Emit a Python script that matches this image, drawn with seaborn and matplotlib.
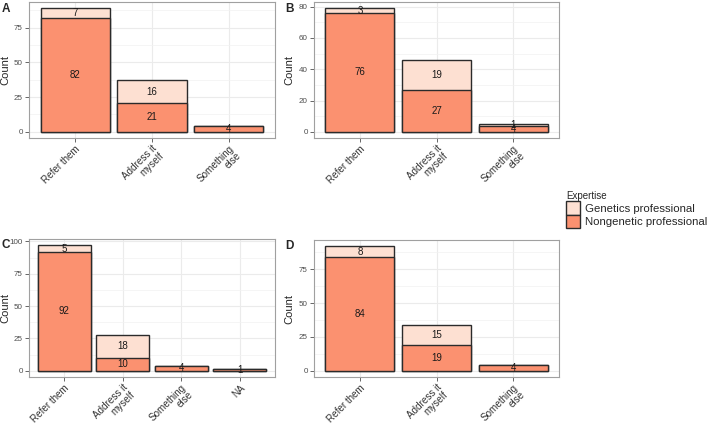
import matplotlib
matplotlib.use("Agg")
import pandas as pd
import matplotlib.pyplot as plt
import seaborn as sns
from matplotlib.patches import Patch

# Response categories
responses = ["Refer them", "Address it\nmyself", "Something\nelse"]
responses_c = ["Refer them", "Address it\nmyself", "Something\nelse", "NA"]

# Counts per panel
nongenetic_a = [82, 21, 4]
genetics_a = [7, 16, 0]
nongenetic_b = [76, 27, 4]
genetics_b = [3, 19, 1]
nongenetic_c = [92, 10, 4, 1]
genetics_c = [5, 18, 0, 0]
nongenetic_d = [84, 19, 4]
genetics_d = [8, 15, 0]

yticks_a = [0, 25, 50, 75]
yticks_b = [0, 20, 40, 60, 80]
yticks_c = [0, 25, 50, 75, 100]
yticks_d = [0, 25, 50, 75]

GEN_COLOR = "#fde0d2"
NONGEN_COLOR = "#fb9170"
EDGE = "#2b2b2b"
FONT = "Liberation Sans"

W, H = 709, 428


def setup_style():
    sns.set_style("white")
    plt.rcParams["font.family"] = [FONT, "DejaVu Sans"]


def px_axes(fig, x0, y0, x1, y1):
    return fig.add_axes([x0 / W, 1 - y1 / H, (x1 - x0) / W, (y1 - y0) / H])


def draw_panel(ax, cats, nongen, gen, yticks, minor_step, label_x):
    df = pd.DataFrame({"response": cats, "nongenetic": nongen, "genetics": gen})
    df["total"] = df["nongenetic"] + df["genetics"]

    # total bar first (genetics on top), then nongenetic part over it
    sns.barplot(data=df, x="response", y="total", order=cats, color=GEN_COLOR,
                saturation=1, width=0.9, edgecolor=EDGE, linewidth=1.0,
                errorbar=None, ax=ax, zorder=3)
    sns.barplot(data=df, x="response", y="nongenetic", order=cats, color=NONGEN_COLOR,
                saturation=1, width=0.9, edgecolor=EDGE, linewidth=1.0,
                errorbar=None, ax=ax, zorder=3)

    for i, row in df.iterrows():
        if row["nongenetic"] > 0:
            ax.text(i, row["nongenetic"] / 2, str(row["nongenetic"]), ha="center",
                    va="center", fontsize=7, color="#1a1a1a", zorder=5)
        if row["genetics"] > 0:
            ax.text(i, row["nongenetic"] + row["genetics"] / 2, str(row["genetics"]),
                    ha="center", va="center", fontsize=7, color="#1a1a1a", zorder=5)

    top = df["total"].max()
    ax.set_ylim(-0.05 * top, top * 1.05)
    ax.set_xlim(-0.6, len(cats) - 0.4)
    ax.set_yticks(yticks)
    ax.set_yticks([t + minor_step for t in yticks if t + minor_step < top * 1.05], minor=True)

    ax.set_axisbelow(True)
    ax.grid(True, which="major", color="#ebebeb", linewidth=0.8, zorder=0)
    ax.grid(True, which="minor", axis="y", color="#f2f2f2", linewidth=0.5, zorder=0)

    ax.set_xlabel("")
    ax.set_ylabel("Count", fontsize=8)
    ax.yaxis.set_label_coords(label_x, 0.5)
    ax.set_xticks(range(len(cats)))
    ax.set_xticklabels(cats, rotation=45, ha="right", va="top", rotation_mode="anchor",
                       fontsize=7.1, color="#333333", linespacing=0.92)
    ax.tick_params(axis="y", which="major", labelsize=5.8, colors="#4d4d4d",
                   length=3, width=0.6, pad=1.5, left=True)
    ax.tick_params(axis="x", which="major", colors="#4d4d4d", length=3, width=0.6,
                   pad=1.0, bottom=True)
    ax.tick_params(axis="x", labelcolor="#333333")
    ax.tick_params(which="minor", length=0)
    for s in ax.spines.values():
        s.set_color("#a0a0a0")
        s.set_linewidth(0.8)


setup_style()
fig = plt.figure(figsize=(W / 100, H / 100), dpi=100)

ax_a = px_axes(fig, 29, 2, 275, 138)
ax_b = px_axes(fig, 314, 2, 559, 138)
ax_c = px_axes(fig, 29, 239, 275, 377)
ax_d = px_axes(fig, 314, 240, 559, 377)

draw_panel(ax_a, responses, nongenetic_a, genetics_a, yticks_a, 12.5, (10 - 29) / 246)
draw_panel(ax_b, responses, nongenetic_b, genetics_b, yticks_b, 10, (294 - 314) / 245)
draw_panel(ax_c, responses_c, nongenetic_c, genetics_c, yticks_c, 12.5, (10 - 29) / 246)
draw_panel(ax_d, responses, nongenetic_d, genetics_d, yticks_d, 12.5, (294 - 314) / 245)

for letter, (x, y) in zip(["A", "B", "C", "D"], [(2, 3), (285, 3), (2, 239), (285, 240)]):
    fig.text(x / W, 1 - y / H, letter, fontsize=8.5, fontweight="bold", ha="left", va="top")

handles = [Patch(facecolor=GEN_COLOR, edgecolor=EDGE, linewidth=1.0, label="Genetics professional"),
           Patch(facecolor=NONGEN_COLOR, edgecolor=EDGE, linewidth=1.0, label="Nongenetic professional")]
leg = fig.legend(handles=handles, title="Expertise", loc="upper left",
                 bbox_to_anchor=(566 / W, 1 - 191 / H), frameon=False, fontsize=8.2,
                 title_fontsize=7, handlelength=1.25, handleheight=1.45,
                 handletextpad=0.45, labelspacing=0.0, borderaxespad=0,
                 borderpad=0)
leg._legend_box.align = "left"

fig.savefig("out.png", dpi=100)
